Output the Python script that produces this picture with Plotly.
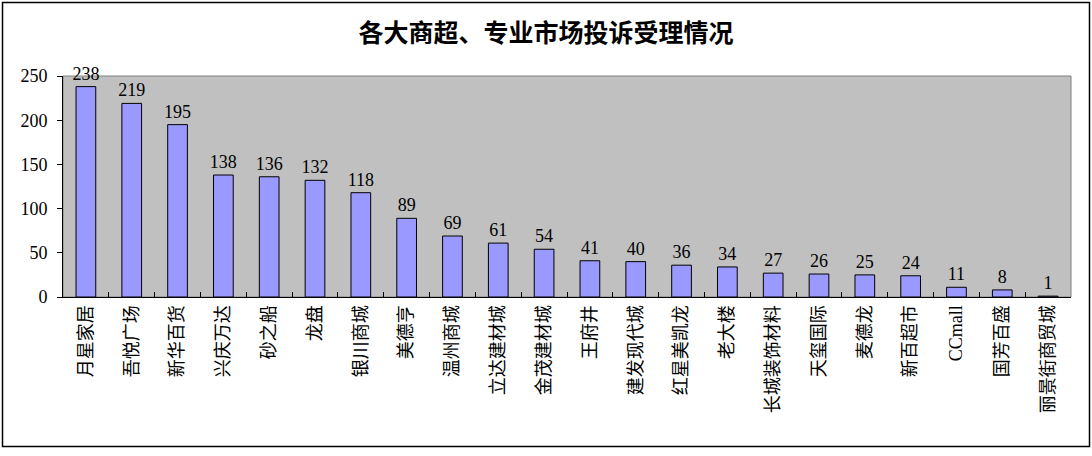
import plotly.graph_objects as go

categories = ["月星家居", "吾悦广场", "新华百货", "兴庆万达", "砂之船", "龙盘", "银川商城", "美德亨",
              "温州商城", "立达建材城", "金茂建材城", "王府井", "建发现代城", "红星美凯龙", "老大楼",
              "长城装饰材料", "天玺国际", "麦德龙", "新百超市", "CCmall", "国芳百盛", "丽景街商贸城"]
values = [238, 219, 195, 138, 136, 132, 118, 89, 69, 61, 54, 41, 40, 36, 34, 27, 26, 25, 24, 11, 8, 1]
y_ticks = [0, 50, 100, 150, 200, 250]
title = "各大商超、专业市场投诉受理情况"

FONT = "Liberation Serif, Noto Sans CJK SC, serif"

W, H = 1092, 456
L, R, T, B = 63, 1071, 76, 297

fig = go.Figure(go.Bar(
    x=categories, y=values,
    marker=dict(color="#9999FF", line=dict(color="black", width=1)),
    text=[str(v) for v in values], textposition="outside", constraintext="none",
    textfont=dict(family=FONT, size=18, color="black"),
    cliponaxis=False, width=0.43,
))

def px_x(p):
    return (p - L) / (R - L)

def px_y(p):
    return (B - p) / (B - T)

fig.update_layout(
    width=W, height=H,
    margin=dict(l=L, r=W - R, t=T, b=H - B),
    paper_bgcolor="white", plot_bgcolor="#C0C0C0",
    title=dict(text="<b>" + title + "</b>", x=0.5, xanchor="center",
               y=1 - 33 / H, yanchor="middle",
               font=dict(family=FONT, size=25, color="black")),
    showlegend=False,
    shapes=[
        dict(type="rect", xref="paper", yref="paper", x0=0, x1=1, y0=0, y1=1,
             line=dict(color="#808080", width=1), layer="below"),
        dict(type="rect", xref="paper", yref="paper",
             x0=px_x(2.5), x1=px_x(1089.5), y0=px_y(446.5), y1=px_y(2.5),
             line=dict(color="black", width=1.5)),
    ],
)
fig.update_xaxes(
    type="category", tickangle=-90, tickson="boundaries", ticks="inside",
    ticklen=5, tickcolor="black", showline=True, linecolor="black", linewidth=1,
    tickfont=dict(family=FONT, size=18, color="black"), showgrid=False,
)
fig.update_yaxes(
    range=[0, 250], tickvals=y_ticks, ticks="outside", ticklen=5, tickcolor="black",
    showline=True, linecolor="black", linewidth=1, showgrid=False, zeroline=False,
    tickfont=dict(family=FONT, size=18, color="black"), ticklabelstandoff=6,
)
fig.write_html("out.html")
